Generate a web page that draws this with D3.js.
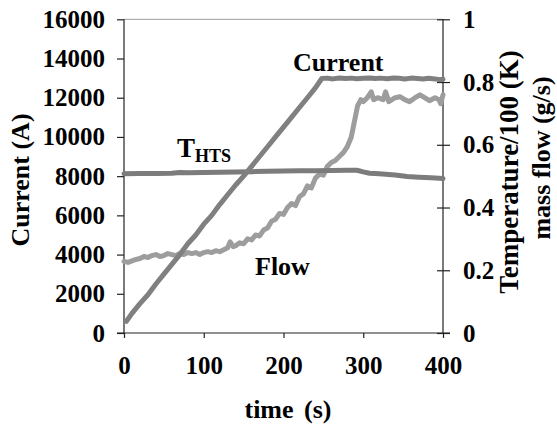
<!DOCTYPE html>
<html><head><meta charset="utf-8">
<script src="https://cdn.jsdelivr.net/npm/d3@7"></script>
<style>
html,body{margin:0;padding:0;background:#fff;}
svg{display:block;}
text{font-family:"Liberation Serif","Times New Roman",serif;font-weight:bold;fill:#000;}
</style></head>
<body>
<script>
// ---- data ----
const currentTime = [3,10,20,30,40,50,60,70,80,90,100,110,120,130,140,150,160,170,180,190,200,210,220,230,240,248,255,262,270,278,285,292,300,308,315,322,330,338,345,352,360,368,375,382,390,396,400];
const currentVals = [600,1000,1500,1950,2500,3000,3500,4000,4550,5000,5550,6000,6550,7050,7550,8000,8500,9000,9500,10000,10500,11000,11500,12000,12500,12980,13000,12960,13010,12980,13000,12970,12990,13010,12980,13000,12970,13010,12990,12960,13000,12980,12950,12990,12960,12920,12940];

const thtsTime = [0,20,40,60,70,80,100,120,140,160,180,200,220,240,260,280,292,300,308,320,340,355,370,385,400];
const thtsVals = [8120,8130,8140,8150,8190,8170,8180,8200,8210,8230,8250,8260,8270,8280,8290,8300,8300,8220,8150,8120,8060,7980,7950,7920,7880];

const flowTime = [0,5,10,15,20,25,30,35,40,45,50,55,60,65,70,75,80,85,90,95,100,105,110,115,120,125,130,133,137,140,145,150,155,160,165,170,175,180,185,190,195,200,205,210,215,220,225,230,235,240,245,250,255,260,265,270,275,280,285,290,293,297,300,305,310,313,318,325,328,332,340,346,352,358,365,371,377,383,390,395,397,400];
const flowVals = [3650,3600,3680,3750,3800,3900,3850,3950,4000,3900,3950,4050,4000,3950,4050,4000,4100,4050,4100,4000,4100,4150,4100,4200,4150,4250,4350,4650,4400,4450,4600,4550,4800,4750,5000,4950,5250,5350,5700,5800,6100,6050,6400,6600,6500,6950,7100,7500,7400,7900,8100,8050,8500,8700,8800,9000,9200,9500,10000,11000,11600,11900,11800,12000,12300,11900,12000,11900,12300,11800,12000,12050,11900,11800,12000,12150,12000,11850,12000,11900,11700,12150];

const xTicks = [0,100,200,300,400];
const yLeftTicks = [0,2000,4000,6000,8000,10000,12000,14000,16000];
const yRightTicks = [0,0.2,0.4,0.6,0.8,1];

// ---- layout ----
const W = 557, H = 429;
const L = 124, R = 443, T = 19.3, B = 333;

const svg = d3.select("body").append("svg").attr("width", W).attr("height", H);

const x = d3.scaleLinear().domain([0,400]).range([L,R]);
const yL = d3.scaleLinear().domain([0,16000]).range([B,T]);
const yR = d3.scaleLinear().domain([0,1]).range([B,T]);

// top border
svg.append("line").attr("x1",L).attr("x2",R).attr("y1",T).attr("y2",T)
  .attr("stroke","#9a9a9a").attr("stroke-width",1);

// left axis
const gL = svg.append("g").attr("transform",`translate(${L},0)`)
  .call(d3.axisLeft(yL).tickValues(yLeftTicks).tickFormat(d3.format("d")).tickSize(7).tickPadding(12));
// bottom axis
const gB = svg.append("g").attr("transform",`translate(0,${B})`)
  .call(d3.axisBottom(x).tickValues(xTicks).tickFormat(d3.format("d")).tickSize(5).tickPadding(18));
// right axis
const gR = svg.append("g").attr("transform",`translate(${R},0)`)
  .call(d3.axisRight(yR).tickValues(yRightTicks).tickFormat(d => d===0? "0" : d===1 ? "1" : d3.format(".1f")(d)).tickSize(7).tickPadding(13));
gR.selectAll(".tick line").attr("x1",-6);

[gL,gB,gR].forEach(g=>{
  g.select(".domain").attr("stroke","#222").attr("stroke-width",1.2);
  g.selectAll(".tick line").attr("stroke","#222").attr("stroke-width",1.2);
  g.selectAll(".tick text").attr("font-size",25).attr("font-family","Liberation Serif").attr("font-weight","bold").attr("fill","#000");
});
gL.select(".domain").attr("d",`M0,${T}V${B}`);
gB.select(".domain").attr("d",`M${L-7},0H${R+7}`);
gR.select(".domain").attr("d",`M0,${T}V${B}`);
gB.selectAll(".tick text").attr("dy","0.71em");

// lines
const mk = (ts, vs, y) => d3.line().x((d,i)=>x(ts[i])).y((d,i)=>y(vs[i]))(vs);
svg.append("path").attr("d", mk(flowTime, flowVals, yL)).attr("fill","none")
  .attr("stroke","#9d9d9d").attr("stroke-width",5).attr("stroke-linejoin","round").attr("stroke-linecap","round");
svg.append("path").attr("d", mk(thtsTime, thtsVals, yL)).attr("fill","none")
  .attr("stroke","#7c7c7c").attr("stroke-width",5).attr("stroke-linejoin","round").attr("stroke-linecap","round");
svg.append("path").attr("d", mk(currentTime, currentVals, yL)).attr("fill","none")
  .attr("stroke","#808080").attr("stroke-width",5).attr("stroke-linejoin","round").attr("stroke-linecap","round");

// annotations
svg.append("text").attr("x",293).attr("y",71).attr("font-size",26).text("Current");
const th = svg.append("text").attr("x",177).attr("y",157).attr("font-size",27);
th.append("tspan").text("T");
th.append("tspan").attr("font-size",18).attr("dy",5).text("HTS");
svg.append("text").attr("x",255).attr("y",275).attr("font-size",26).text("Flow");

// axis titles
svg.append("text").attr("transform","translate(29,180) rotate(-90)").attr("text-anchor","middle")
  .attr("font-size",26).text("Current (A)");
svg.append("text").attr("x",288).attr("y",418).attr("text-anchor","middle").attr("font-size",26)
  .attr("word-spacing",4).text("time (s)");
svg.append("text").attr("transform","translate(518,172) rotate(-90)").attr("text-anchor","middle")
  .attr("font-size",27).text("Temperature/100 (K)");
svg.append("text").attr("transform","translate(550,158) rotate(-90)").attr("text-anchor","middle")
  .attr("font-size",26).text("mass flow (g/s)");
</script>
</body></html>
